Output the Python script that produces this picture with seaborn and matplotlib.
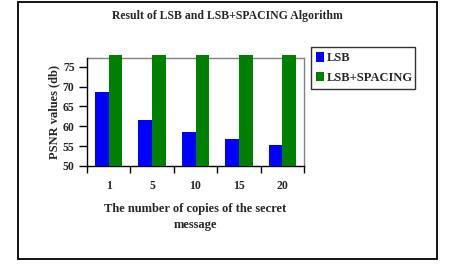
import matplotlib
matplotlib.use("Agg")
import matplotlib.pyplot as plt
import seaborn as sns
import pandas as pd
from matplotlib.patches import Rectangle

copies = ["1", "5", "10", "15", "20"]
lsb = [68.5, 61.5, 58.5, 56.7, 55.4]
lsb_spacing = [77.9, 77.9, 77.9, 77.9, 77.9]
series_names = ["LSB", "LSB+SPACING"]
y_ticks = [50, 55, 60, 65, 70, 75]

df = pd.DataFrame({
    "copies": copies * 2,
    "psnr": lsb + lsb_spacing,
    "series": [series_names[0]] * len(copies) + [series_names[1]] * len(copies),
})

sns.set_style("white")
plt.rcParams["font.family"] = ["Liberation Serif", "DejaVu Serif"]
plt.rcParams["font.weight"] = "bold"

fig = plt.figure(figsize=(4.49, 2.69), dpi=100)
W, H = 449, 269
ax = fig.add_axes([87 / W, 1 - 166 / H, (304 - 87) / W, (166 - 58.3) / H])

sns.barplot(data=df, x="copies", y="psnr", hue="series", order=copies,
            palette=["#0000FF", "#008000"], width=0.63, gap=0,
            saturation=1, edgecolor="none", linewidth=0, ax=ax, legend=True)

clip_rect = Rectangle((0, 0), 1, 1.1, transform=ax.transAxes, visible=False)
ax.add_artist(clip_rect)
for p in ax.patches:
    if p is clip_rect:
        continue
    p.set_clip_path(clip_rect)
    p.set_zorder(3)

ax.set_ylim(50, 77.1)
ax.set_xlim(-0.5, 4.5)
ax.set_yticks(y_ticks)
ax.set_yticklabels([str(t) for t in y_ticks], fontsize=8.5, fontweight="bold")
ax.set_xticks(range(len(copies)))
ax.set_xticklabels(copies, fontsize=8.5, fontweight="bold")
ax.set_xticks([i - 0.5 for i in range(len(copies) + 1)], minor=True)
ax.tick_params(axis="x", which="major", length=0, pad=10)
ax.tick_params(axis="x", which="minor", length=5, width=1, color="black", direction="out", bottom=True)
ax.tick_params(axis="y", which="major", length=6, width=1, color="black", direction="out", left=True, pad=3)

for s in ["left", "bottom"]:
    ax.spines[s].set_color("black")
    ax.spines[s].set_linewidth(1)
for s in ["top", "right"]:
    ax.spines[s].set_color("#808080")
    ax.spines[s].set_linewidth(1)
    ax.spines[s].set_zorder(1)

ax.set_xlabel("The number of copies of the secret\nmessage", fontsize=9, fontweight="bold",
              labelpad=8, linespacing=1.45)
ax.set_ylabel("PSNR values (db)", fontsize=9, fontweight="bold", labelpad=2)

leg = ax.legend(loc="upper left", bbox_to_anchor=(311 / W, 1 - 87 / H, (415 - 311) / W, 40 / H),
                bbox_transform=fig.transFigure, mode="expand", frameon=True, fancybox=False,
                prop={"size": 9, "weight": "bold"}, handlelength=0.6, handleheight=0.8,
                handletextpad=0.25, borderpad=0.4, labelspacing=0.6, borderaxespad=0)
leg.get_frame().set_edgecolor("black")
leg.get_frame().set_linewidth(1)

fig.text(227 / W, 1 - 16 / H, "Result of LSB and LSB+SPACING Algorithm",
         ha="center", va="center", fontsize=8.5, fontweight="bold")

fig.patches.append(Rectangle((18 / W, 1 - 259 / H), (437 - 18) / W, (259 - 1.5) / H,
                             transform=fig.transFigure, fill=False, edgecolor="black",
                             linewidth=1.3))

fig.savefig("out.png", dpi=100)
